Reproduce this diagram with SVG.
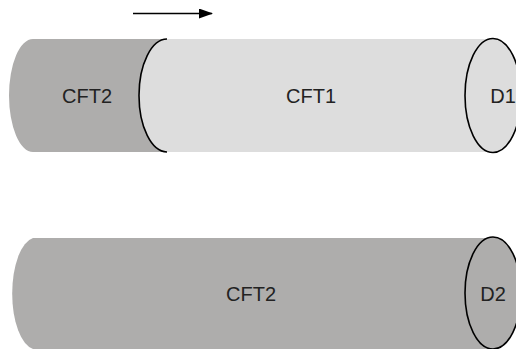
<svg xmlns="http://www.w3.org/2000/svg" width="516" height="349" viewBox="0 0 516 349">
<style>
.dark{fill:#aeadac}
.light{fill:#dddddd}
.edge{fill:none;stroke:#000;stroke-width:1.6}
text{font-family:"Liberation Sans",Arial,sans-serif;font-size:20px;fill:#222;text-anchor:middle}
</style>
<defs>
<marker id="ah" markerWidth="14" markerHeight="10" refX="13" refY="5" orient="auto" markerUnits="userSpaceOnUse">
<path d="M0,0 L14,5 L0,10 Z" fill="#000"/>
</marker>
</defs>
<g id="connectors">
<line x1="133" y1="13.5" x2="212" y2="13.5" stroke="#000" stroke-width="1.6" marker-end="url(#ah)"/>
</g>
<g id="top-cylinder">
<g id="cft1">
<path class="light" d="M167,39 A28,56.5 0 0 0 167,152 H493 V39 Z"/>
<ellipse class="light" cx="493" cy="95.5" rx="28" ry="57"/>
<text x="311" y="103">CFT1</text>
</g>
<g id="cft2-top">
<path class="dark" d="M33,39 H167 A28,56.5 0 0 0 167,152 H33 A24,56.5 0 0 1 33,39 Z"/>
<path class="edge" d="M167,39 A28,56.5 0 0 0 167,152"/>
<text x="87" y="103">CFT2</text>
</g>
<g id="d1">
<ellipse class="edge" cx="493" cy="95.5" rx="28" ry="57"/>
<text x="503" y="103">D1</text>
</g>
</g>
<g id="bottom-cylinder">
<g id="cft2-bottom">
<path class="dark" d="M33,238 H493 V349 H33 A24,56 0 0 1 33,238 Z"/>
<ellipse class="dark" cx="493" cy="293" rx="28" ry="56"/>
<text x="251" y="301">CFT2</text>
</g>
<g id="d2">
<ellipse class="edge" cx="493" cy="293" rx="28" ry="56"/>
<text x="493" y="301">D2</text>
</g>
</g>
</svg>
